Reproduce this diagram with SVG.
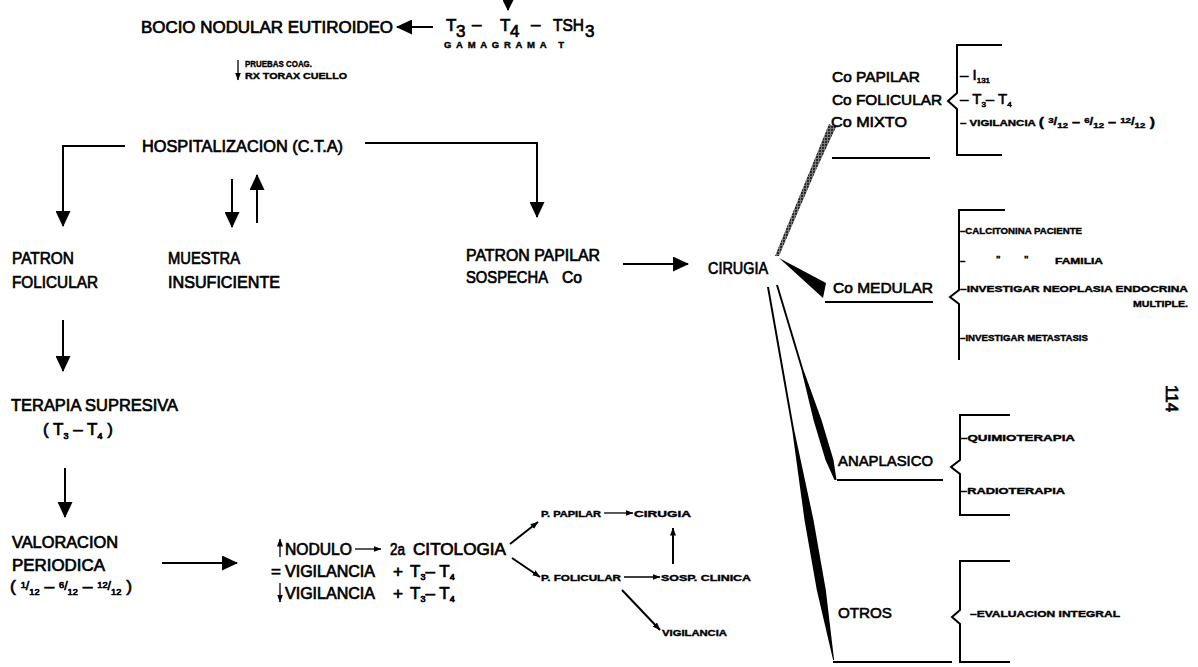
<svg xmlns="http://www.w3.org/2000/svg" width="1198" height="667" viewBox="0 0 1198 667">
<style>
text{font-family:"Liberation Sans",Arial,sans-serif;fill:#000}
.m{font-size:17px;stroke:#000;stroke-width:0.7}
.r{font-size:15px;stroke:#000;stroke-width:0.6}
.s{font-size:9.5px;font-weight:bold;stroke:#000;stroke-width:0.4}
.c{fill:none;stroke:#000;stroke-width:2}
.t{fill:none;stroke:#000;stroke-width:1.3}
.w{fill:#000;stroke:none}
</style>
<defs>
<marker id="big" markerUnits="userSpaceOnUse" viewBox="0 0 16 15" markerWidth="16" markerHeight="15" refX="15" refY="7.5" orient="auto"><path d="M0 0L16 7.5L0 15z"/></marker>
<marker id="med" markerUnits="userSpaceOnUse" viewBox="0 0 11 11" markerWidth="11" markerHeight="11" refX="10" refY="5.5" orient="auto"><path d="M0 0L11 5.5L0 11z"/></marker>
<marker id="sm" markerUnits="userSpaceOnUse" viewBox="0 0 8 6" markerWidth="8" markerHeight="6" refX="7.5" refY="3" orient="auto"><path d="M0 0L8 3L0 6z"/></marker>
<pattern id="stip" width="3" height="3" patternUnits="userSpaceOnUse"><rect width="3" height="3" fill="#7a7a7a"/><circle cx="1" cy="1" r="0.9" fill="#000"/></pattern>
</defs>

<g id="connectors">
<path class="c" d="M508 -6V10" marker-end="url(#med)"/>
<path class="c" d="M433 27H397" marker-end="url(#big)"/>
<path class="t" d="M238 60V80" marker-end="url(#sm)"/>
<path class="c" d="M125 146H63V226" marker-end="url(#big)"/>
<path class="c" d="M365 143H537V217" marker-end="url(#big)"/>
<path class="c" d="M232 179V227" marker-end="url(#big)"/>
<path class="c" d="M257 223V175" marker-end="url(#big)"/>
<path class="c" d="M63 320V371" marker-end="url(#big)"/>
<path class="c" d="M65 468V517" marker-end="url(#big)"/>
<path class="c" d="M162 563H237" marker-end="url(#big)"/>
<path class="c" d="M623 264H688" marker-end="url(#big)"/>
<path class="t" d="M280 557V539" marker-end="url(#sm)"/>
<path class="t" d="M355 549H381" marker-end="url(#sm)"/>
<path class="t" d="M280 583V602" marker-end="url(#sm)"/>
<path class="c" d="M510 544L538 522" marker-end="url(#sm)"/>
<path class="c" d="M512 558L540 577" marker-end="url(#sm)"/>
<path class="t" d="M604 513H633" marker-end="url(#sm)"/>
<path class="t" d="M624 577H660" marker-end="url(#sm)"/>
<path class="c" d="M673 564V528" marker-end="url(#sm)"/>
<path class="c" d="M622 590L660 630" marker-end="url(#sm)"/>
<polygon fill="url(#stip)" points="775,256 829,124 836,127 816,170 779,256"/>
<polygon class="w" points="779,258 826,283 823,298"/>
<polygon class="w" points="776,285 801.5,370 813.5,420 825.5,460 834.5,480 836.5,480 833.5,460 821.5,420 803.5,370 778,285"/>
<polygon class="w" points="767,287 792.2,430 804.5,520 816.8,590 833.1,660 834.1,660 825.8,590 813.5,520 794.2,430 769,287"/>
<path class="c" d="M832 158H930"/>
<path class="c" d="M825 302H933"/>
<path class="c" d="M837 480H943"/>
<path class="c" d="M833 662H952"/>
<path class="c" d="M1002 45H957V93L948 101L957 109V155H1002"/>
<path class="c" d="M1005 210H959V290L950 297L959 304V360"/>
<path class="c" d="M1010 415H960V460L951 467L960 474V515H1010"/>
<path class="c" d="M1010 561H960V610L952 617L960 624V662H1010"/>
</g>

<g id="bocio"><text class="m" x="141" y="33" textLength="252" lengthAdjust="spacingAndGlyphs">BOCIO NODULAR EUTIROIDEO</text></g>
<g id="t3t4tsh">
<text class="m" x="446" y="31">T</text><text class="m" x="456" y="37" font-size="11">3</text>
<text class="m" x="472" y="30">–</text>
<text class="m" x="500" y="31">T</text><text class="m" x="510" y="37" font-size="11">4</text>
<text class="m" x="531" y="30">–</text>
<text class="m" x="553" y="31" textLength="31" lengthAdjust="spacingAndGlyphs">TSH</text><text class="m" x="585" y="37" font-size="11">3</text>
<text class="s" x="444" y="48" font-size="9.5" textLength="120" lengthAdjust="spacing">GAMAGRAMA  T</text>
</g>
<g id="pruebas">
<text class="s" x="245" y="67" font-size="10" textLength="67" lengthAdjust="spacingAndGlyphs">PRUEBAS COAG.</text>
<text class="s" x="245" y="79" font-size="10" textLength="102" lengthAdjust="spacingAndGlyphs">RX TORAX CUELLO</text>
</g>
<g id="hosp"><text class="m" x="142" y="152" textLength="201" lengthAdjust="spacingAndGlyphs">HOSPITALIZACION (C.T.A)</text></g>
<g id="patron-folicular">
<text class="m" x="12" y="264" textLength="62" lengthAdjust="spacingAndGlyphs">PATRON</text>
<text class="m" x="12" y="288" textLength="86" lengthAdjust="spacingAndGlyphs">FOLICULAR</text>
</g>
<g id="muestra">
<text class="m" x="168" y="264" textLength="72" lengthAdjust="spacingAndGlyphs">MUESTRA</text>
<text class="m" x="168" y="288" textLength="112" lengthAdjust="spacingAndGlyphs">INSUFICIENTE</text>
</g>
<g id="patron-papilar">
<text class="m" x="466" y="261" textLength="134" lengthAdjust="spacingAndGlyphs">PATRON PAPILAR</text>
<text class="m" x="466" y="283" textLength="82" lengthAdjust="spacingAndGlyphs">SOSPECHA</text>
<text class="m" x="562" y="283" textLength="20" lengthAdjust="spacingAndGlyphs">Co</text>
</g>
<g id="cirugia"><text class="m" x="708" y="274" textLength="60" lengthAdjust="spacingAndGlyphs">CIRUGIA</text></g>
<g id="terapia">
<text class="m" x="11" y="411" textLength="167" lengthAdjust="spacingAndGlyphs">TERAPIA SUPRESIVA</text>
<text class="m" x="43" y="435" font-size="14">( <tspan>T</tspan><tspan font-size="9" dy="4">3</tspan><tspan dy="-4"> – </tspan><tspan>T</tspan><tspan font-size="9" dy="4">4</tspan><tspan dy="-4"> )</tspan></text>
</g>
<g id="valoracion">
<text class="m" x="12" y="548" textLength="106" lengthAdjust="spacingAndGlyphs">VALORACION</text>
<text class="m" x="12" y="571" textLength="93" lengthAdjust="spacingAndGlyphs">PERIODICA</text>
<text class="m" x="10" y="592" font-size="15" textLength="122" lengthAdjust="spacingAndGlyphs">( <tspan font-size="9" dy="-4">1</tspan><tspan font-size="12" dy="2">/</tspan><tspan font-size="9" dy="5">12</tspan><tspan dy="-3"> – </tspan><tspan font-size="9" dy="-4">6</tspan><tspan font-size="12" dy="2">/</tspan><tspan font-size="9" dy="5">12</tspan><tspan dy="-3"> – </tspan><tspan font-size="9" dy="-4">12</tspan><tspan font-size="12" dy="2">/</tspan><tspan font-size="9" dy="5">12</tspan><tspan dy="-3"> )</tspan></text>
</g>
<g id="seguimiento">
<text class="m" x="285" y="555" font-size="16" textLength="67" lengthAdjust="spacingAndGlyphs">NODULO</text>
<text class="m" x="390" y="555" font-size="16" textLength="15" lengthAdjust="spacingAndGlyphs">2a</text>
<text class="m" x="413" y="555" font-size="16" textLength="93" lengthAdjust="spacingAndGlyphs">CITOLOGIA</text>
<text class="m" x="271" y="577" font-size="16">=</text>
<text class="m" x="285" y="577" font-size="16" textLength="90" lengthAdjust="spacingAndGlyphs">VIGILANCIA</text>
<text class="m" x="393" y="577" font-size="16">+</text>
<text class="m" x="410" y="577" font-size="14">T<tspan font-size="9" dy="3">3</tspan><tspan dy="-3">– T</tspan><tspan font-size="9" dy="3">4</tspan></text>
<text class="m" x="285" y="599" font-size="16" textLength="90" lengthAdjust="spacingAndGlyphs">VIGILANCIA</text>
<text class="m" x="393" y="599" font-size="16">+</text>
<text class="m" x="410" y="599" font-size="14">T<tspan font-size="9" dy="3">3</tspan><tspan dy="-3">– T</tspan><tspan font-size="9" dy="3">4</tspan></text>
</g>
<g id="p-papilar">
<text class="s" x="541" y="517" textLength="60" lengthAdjust="spacingAndGlyphs">P. PAPILAR</text>
<text class="s" x="634" y="517" textLength="57" lengthAdjust="spacingAndGlyphs">CIRUGIA</text>
</g>
<g id="p-folicular">
<text class="s" x="541" y="581" textLength="80" lengthAdjust="spacingAndGlyphs">P. FOLICULAR</text>
<text class="s" x="661" y="581" textLength="90" lengthAdjust="spacingAndGlyphs">SOSP. CLINICA</text>
<text class="s" x="662" y="636" textLength="65" lengthAdjust="spacingAndGlyphs">VIGILANCIA</text>
</g>
<g id="co-papilar">
<text class="r" x="832" y="82" textLength="88" lengthAdjust="spacingAndGlyphs">Co PAPILAR</text>
<text class="r" x="832" y="105" textLength="110" lengthAdjust="spacingAndGlyphs">Co FOLICULAR</text>
<text class="r" x="831" y="127" textLength="76" lengthAdjust="spacingAndGlyphs">Co MIXTO</text>
<text class="r" x="960" y="80" font-size="13">– I<tspan font-size="8" dy="3">131</tspan></text>
<text class="r" x="960" y="104" font-size="13">– T<tspan font-size="8" dy="3">3</tspan><tspan dy="-3">– T</tspan><tspan font-size="8" dy="3">4</tspan></text>
<text class="s" x="960" y="126" textLength="195" lengthAdjust="spacingAndGlyphs">– VIGILANCIA <tspan font-size="13">( </tspan><tspan font-size="8" dy="-3">3</tspan><tspan font-size="11" dy="2">/</tspan><tspan font-size="8" dy="3">12</tspan><tspan font-size="12" dy="-2"> – </tspan><tspan font-size="8" dy="-3">6</tspan><tspan font-size="11" dy="2">/</tspan><tspan font-size="8" dy="3">12</tspan><tspan font-size="12" dy="-2"> – </tspan><tspan font-size="8" dy="-3">12</tspan><tspan font-size="11" dy="2">/</tspan><tspan font-size="8" dy="3">12</tspan><tspan font-size="13" dy="-2"> )</tspan></text>
</g>
<g id="co-medular">
<text class="r" x="833" y="293" textLength="100" lengthAdjust="spacingAndGlyphs">Co MEDULAR</text>
<text class="s" x="960" y="234" textLength="122" lengthAdjust="spacingAndGlyphs">–CALCITONINA PACIENTE</text>
<text class="s" x="960" y="264">–</text>
<text class="s" x="996" y="262">"</text>
<text class="s" x="1024" y="262">"</text>
<text class="s" x="1055" y="264" textLength="48" lengthAdjust="spacingAndGlyphs">FAMILIA</text>
<text class="s" x="960" y="292" textLength="228" lengthAdjust="spacingAndGlyphs">–INVESTIGAR NEOPLASIA ENDOCRINA</text>
<text class="s" x="1133" y="307" textLength="55" lengthAdjust="spacingAndGlyphs">MULTIPLE.</text>
<text class="s" x="960" y="341" textLength="128" lengthAdjust="spacingAndGlyphs">–INVESTIGAR METASTASIS</text>
</g>
<g id="anaplasico">
<text class="r" x="838" y="466" textLength="95" lengthAdjust="spacingAndGlyphs">ANAPLASICO</text>
<text class="s" x="960" y="441" textLength="115" lengthAdjust="spacingAndGlyphs">–QUIMIOTERAPIA</text>
<text class="s" x="960" y="494" textLength="105" lengthAdjust="spacingAndGlyphs">–RADIOTERAPIA</text>
</g>
<g id="otros">
<text class="r" x="838" y="618" textLength="54" lengthAdjust="spacingAndGlyphs">OTROS</text>
<text class="s" x="970" y="617" textLength="150" lengthAdjust="spacingAndGlyphs">–EVALUACION INTEGRAL</text>
</g>
<g id="page-mark"><text class="m" x="0" y="0" font-size="24" transform="translate(1166 385) rotate(90)">114</text></g>
</svg>
